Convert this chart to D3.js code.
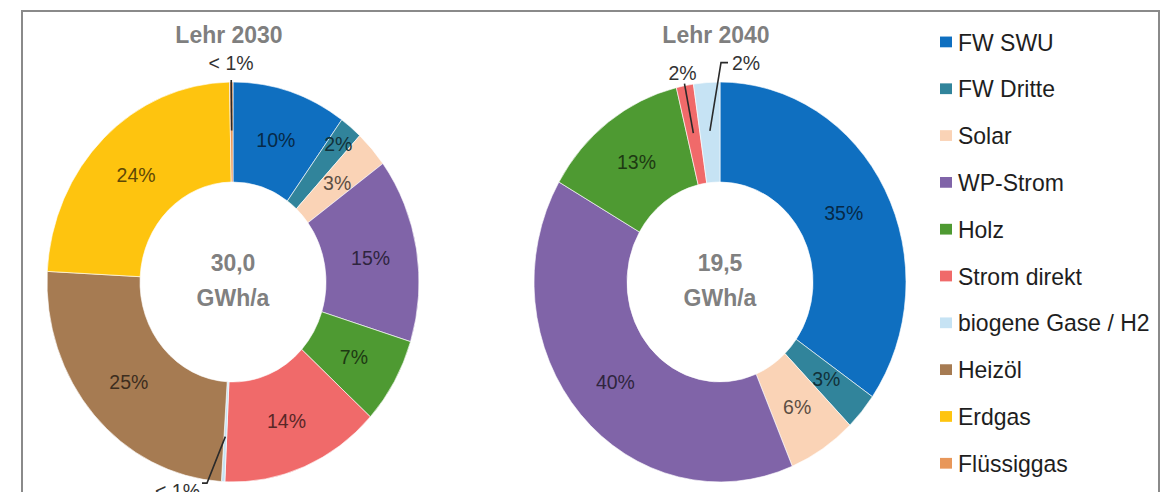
<!DOCTYPE html>
<html>
<head>
<meta charset="utf-8">
<script src="https://cdn.jsdelivr.net/npm/d3@7"></script>
<style>
  body { margin: 0; background: #fff; }
  svg { display: block; font-family: "Liberation Sans", Arial, sans-serif; }
</style>
</head>
<body>
<script>
// data (percent shares)
const categories = ["FW SWU", "FW Dritte", "Solar", "WP-Strom", "Holz", "Strom direkt",
                    "biogene Gase / H2", "Heizöl", "Erdgas", "Flüssiggas"];
const colors = ["#0f6fc0", "#31849b", "#fad3b6", "#8064a8", "#4e9a32", "#f06a6a",
                "#c6e3f4", "#a67b52", "#fec40f", "#e8975a"];
const values2030 = [10, 2, 3, 15, 7, 14, 0.3, 25, 24, 0.3];
const values2040 = [35, 3, 6, 40, 13, 1.5, 2.3, 0, 0, 0];
const titles = ["Lehr 2030", "Lehr 2040"];
const totals = ["30,0", "19,5"];

const width = 1168, height = 492;
const stretch = 1.075;   // the source picture is a bit taller than wide
const R = 186, r0 = 93;

const svg = d3.select("body").append("svg")
    .attr("width", width)
    .attr("height", height);

// frame
svg.append("rect")
    .attr("x", 22).attr("y", 11)
    .attr("width", 1137).attr("height", 520)
    .attr("fill", "none")
    .attr("stroke", "#8a8a8a")
    .attr("stroke-width", 2);

const pie = d3.pie().sort(null).value(d => d.value);
const arc = d3.arc().innerRadius(r0).outerRadius(R);

function pctLabel(v) {
    return v < 1 ? "< 1%" : Math.round(v) + "%";
}

// leader lines for tiny slices, offsets are relative to donut centre
const callouts = [
    [
        {name: "Flüssiggas", from: 141, pts: [[null, 188]], label: [null, 204], anchor: "middle"},
        {name: "biogene Gase / H2", from: 144, pts: [[-26, 187], [-31, 187]], label: [-33, 194], anchor: "end"}
    ],
    [
        {name: "Strom direkt", from: 141, pts: [[null, 188]], label: [null, 198], anchor: "middle"},
        {name: "biogene Gase / H2", from: 141, pts: [[1, -204], [8, -204]], label: [12, -204], anchor: "start"}
    ]
];
const labelRadius = [{"FW Dritte": 166}, {}];

function polar(a, rad) {
    return [Math.sin(a) * rad, -Math.cos(a) * rad];
}

function drawDonut(values, idx, cx) {
    const data = categories.map((c, i) => ({name: c, value: values[i], color: colors[i]}))
        .filter(d => d.value > 0);
    const arcs = pie(data);

    const g = svg.append("g")
        .attr("transform", "translate(" + cx + ",282) scale(1," + stretch + ")");

    g.selectAll("path")
        .data(arcs)
        .join("path")
        .attr("d", arc)
        .attr("fill", d => d.data.color)
        .attr("stroke", "#fff")
        .attr("stroke-width", 0.6);

    const special = callouts[idx].map(c => c.name);

    // labels inside the ring
    g.selectAll("text.pct")
        .data(arcs.filter(d => !special.includes(d.data.name)))
        .join("text")
        .attr("class", "pct")
        .attr("transform", d => {
            let p = arc.centroid(d);
            const lr = labelRadius[idx][d.data.name];
            if (lr) p = polar((d.startAngle + d.endAngle) / 2, lr);
            return "translate(" + p[0] + "," + p[1] + ")";
        })
        .attr("text-anchor", "middle")
        .attr("dy", "0.35em")
        .style("font-size", "19.5px")
        .attr("fill", d => d3.color(d.data.color).darker(2.8))
        .text(d => pctLabel(d.data.value));

    // callouts
    callouts[idx].forEach(c => {
        const d = arcs.find(a => a.data.name === c.name);
        const mid = (d.startAngle + d.endAngle) / 2;
        const pts = [polar(mid, c.from)];
        c.pts.forEach(p => pts.push(p[0] === null ? polar(mid, p[1]) : p));
        g.append("path")
            .attr("d", d3.line()(pts))
            .attr("fill", "none")
            .attr("stroke", "#2a2a2a")
            .attr("stroke-width", 1.6);
        const lp = c.label[0] === null ? polar(mid, c.label[1]) : c.label;
        g.append("text")
            .attr("x", lp[0]).attr("y", lp[1])
            .attr("dy", "0.35em")
            .attr("text-anchor", c.anchor)
            .style("font-size", "19.5px")
            .attr("fill", "#333")
            .text(pctLabel(d.data.value));
    });

    // title and centre text
    g.append("text")
        .attr("x", -4).attr("y", -230)
        .attr("dy", "0.35em")
        .attr("text-anchor", "middle")
        .style("font-size", "23px")
        .style("font-weight", "bold")
        .attr("fill", "#7f7f7f")
        .text(titles[idx]);

    const center = g.append("text")
        .attr("text-anchor", "middle")
        .style("font-size", "23px")
        .style("font-weight", "bold")
        .attr("fill", "#808080");
    center.append("tspan").attr("x", 0).attr("y", -18.5).attr("dy", "0.35em").text(totals[idx]);
    center.append("tspan").attr("x", 0).attr("y", 14).attr("dy", "0.35em").text("GWh/a");
}

drawDonut(values2030, 0, 233);
drawDonut(values2040, 1, 720);

// legend
const legend = svg.append("g")
    .attr("transform", "scale(1," + stretch + ")");

const item = legend.selectAll("g.item")
    .data(categories)
    .join("g")
    .attr("class", "item")
    .attr("transform", (d, i) => "translate(940," + (39 + i * 43.55) + ")");

item.append("rect")
    .attr("x", 0).attr("y", -5)
    .attr("width", 12).attr("height", 10)
    .attr("fill", (d, i) => colors[i]);

item.append("text")
    .attr("x", 18)
    .attr("dy", "0.35em")
    .style("font-size", "23px")
    .attr("fill", "#1e1e1e")
    .text(d => d);
</script>
</body>
</html>
